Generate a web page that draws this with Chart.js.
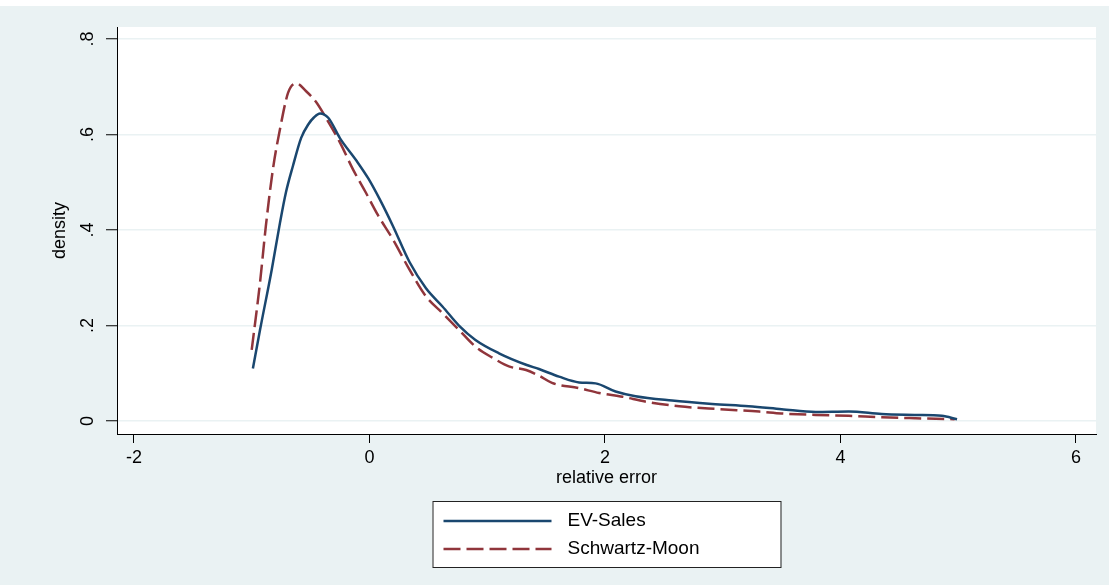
<!DOCTYPE html>
<html>
<head>
<meta charset="utf-8">
<script src="https://cdn.jsdelivr.net/npm/chart.js@4.4.1/dist/chart.umd.min.js"></script>
<style>
  html, body { margin: 0; padding: 0; background: #eaf2f3; }
  #wrap { position: relative; width: 1109px; height: 585px; }
  #strip { position: absolute; left: 0; top: 0; width: 1109px; height: 6px; background: #fff; }
  canvas { display: block; }
</style>
</head>
<body>
<div id="wrap">
  <canvas id="densityChart" width="1109" height="585"></canvas>
  <div id="strip"></div>
</div>
<script>
// kernel density estimates
const evX = [-0.99, -0.93, -0.83, -0.76, -0.71, -0.65, -0.58, -0.52, -0.47, -0.42,
             -0.35, -0.25, -0.11, -0.01, 0.09, 0.2, 0.34, 0.48, 0.62, 0.76,
             0.9, 1.1, 1.33, 1.44, 1.61, 1.78, 1.92, 2.09, 2.26, 2.57,
             2.91, 3.22, 3.5, 3.79, 4.07, 4.35, 4.63, 4.86, 4.99];
const evY = [0.11, 0.19, 0.317, 0.415, 0.478, 0.534, 0.593, 0.621, 0.636, 0.644,
             0.635, 0.592, 0.545, 0.508, 0.463, 0.408, 0.333, 0.278, 0.24, 0.2,
             0.17, 0.142, 0.118, 0.109, 0.093, 0.081, 0.079, 0.062, 0.052, 0.043,
             0.036, 0.031, 0.025, 0.019, 0.02, 0.015, 0.013, 0.011, 0.004];

const smX = [-1.0, -0.93, -0.88, -0.82, -0.76, -0.69, -0.62, -0.54, -0.45, -0.37,
             -0.25, -0.14, -0.03, 0.07, 0.2, 0.34, 0.48, 0.62, 0.76, 0.9,
             1.05, 1.19, 1.33, 1.44, 1.55, 1.78, 1.95, 2.15, 2.34, 2.63,
             2.97, 3.31, 3.5, 3.79, 4.07, 4.35, 4.63, 4.97];
const smY = [0.149, 0.289, 0.408, 0.527, 0.611, 0.688, 0.707, 0.691, 0.667, 0.635,
             0.583, 0.527, 0.478, 0.432, 0.38, 0.317, 0.261, 0.226, 0.191, 0.156,
             0.132, 0.114, 0.107, 0.095, 0.08, 0.069, 0.059, 0.051, 0.041, 0.031,
             0.025, 0.02, 0.016, 0.013, 0.011, 0.008, 0.006, 0.004];

const seriesNames = ['EV-Sales', 'Schwartz-Moon'];
const xTicks = [-2, 0, 2, 4, 6];
const yTicks = [0, 0.2, 0.4, 0.6, 0.8];
const yTickLabels = ['0', '.2', '.4', '.6', '.8'];

const toPoints = (xs, ys) => xs.map((x, i) => ({ x: x, y: ys[i] }));
const FONT = 'Liberation Sans, Arial, sans-serif';

// white plot region
const plotBg = {
    id: 'plotBg',
    beforeDraw(chart) {
        const { ctx, chartArea: a } = chart;
        ctx.save();
        ctx.fillStyle = '#ffffff';
        ctx.fillRect(a.left, a.top, a.right - a.left, a.bottom - a.top);
        ctx.restore();
    }
};

// stata-style boxed legend, one key per row
const boxLegend = {
    id: 'boxLegend',
    afterDraw(chart) {
        const { ctx, chartArea: a } = chart;
        const cx = (a.left + a.right) / 2;
        const w = 348, h = 66;
        const left = cx - w / 2, top = a.bottom + 67;
        ctx.save();
        ctx.fillStyle = '#ffffff';
        ctx.fillRect(left, top, w, h);
        ctx.strokeStyle = '#222';
        ctx.lineWidth = 1;
        ctx.strokeRect(left + 0.5, top + 0.5, w, h);
        ctx.font = '19px ' + FONT;
        ctx.textBaseline = 'middle';
        chart.data.datasets.forEach((ds, i) => {
            const y = top + 20 + i * 28;
            ctx.strokeStyle = ds.borderColor;
            ctx.lineWidth = ds.borderWidth;
            ctx.setLineDash(ds.borderDash || []);
            ctx.beginPath();
            ctx.moveTo(left + 11, y);
            ctx.lineTo(left + 119, y);
            ctx.stroke();
            ctx.setLineDash([]);
            ctx.fillStyle = '#000';
            ctx.fillText(ds.label, left + 135, y);
        });
        ctx.restore();
    }
};

const ctx = document.getElementById('densityChart').getContext('2d');
const densityChart = new Chart(ctx, {
    type: 'scatter',
    data: {
        datasets: [{
            label: seriesNames[0],
            data: toPoints(evX, evY),
            showLine: true,
            borderColor: '#1a476f',
            borderWidth: 2.5,
            pointRadius: 0,
            cubicInterpolationMode: 'monotone'
        }, {
            label: seriesNames[1],
            data: toPoints(smX, smY),
            showLine: true,
            borderColor: '#90353b',
            borderWidth: 2.5,
            borderDash: [17, 6],
            pointRadius: 0,
            cubicInterpolationMode: 'monotone'
        }]
    },
    options: {
        responsive: false,
        animation: false,
        layout: { padding: { top: 27, right: 13, left: 0, bottom: 0 } },
        plugins: {
            legend: { display: false },
            tooltip: { enabled: false }
        },
        scales: {
            x: {
                type: 'linear',
                min: -2.144,
                max: 6.17,
                afterBuildTicks: s => { s.ticks = xTicks.map(v => ({ value: v })); },
                afterFit: s => { s.height = 151; },
                grid: { drawOnChartArea: false, tickLength: 9, tickColor: '#000', tickWidth: 1 },
                border: { display: true, color: '#000', width: 1 },
                ticks: {
                    color: '#000',
                    font: { family: FONT, size: 18 },
                    padding: 4,
                    maxRotation: 0,
                    callback: v => String(v)
                },
                title: {
                    display: true,
                    text: 'relative error',
                    color: '#000',
                    font: { family: FONT, size: 18 },
                    padding: { top: 0, bottom: 96 }
                }
            },
            y: {
                type: 'linear',
                min: -0.027,
                max: 0.825,
                afterBuildTicks: s => { s.ticks = yTicks.map(v => ({ value: v })); },
                afterFit: s => { s.width = 117; },
                grid: { color: '#eaf2f3', lineWidth: 1.5, tickLength: 11, tickColor: '#000', tickWidth: 1 },
                border: { display: true, color: '#000', width: 1 },
                ticks: {
                    color: '#000',
                    font: { family: FONT, size: 18 },
                    minRotation: 90,
                    maxRotation: 90,
                    crossAlign: 'center',
                    padding: 10,
                    callback: v => yTickLabels[yTicks.indexOf(v)]
                },
                title: {
                    display: true,
                    text: 'density',
                    color: '#000',
                    font: { family: FONT, size: 18 },
                    padding: { top: 49, bottom: 0 }
                }
            }
        }
    },
    plugins: [plotBg, boxLegend]
});
</script>
</body>
</html>
